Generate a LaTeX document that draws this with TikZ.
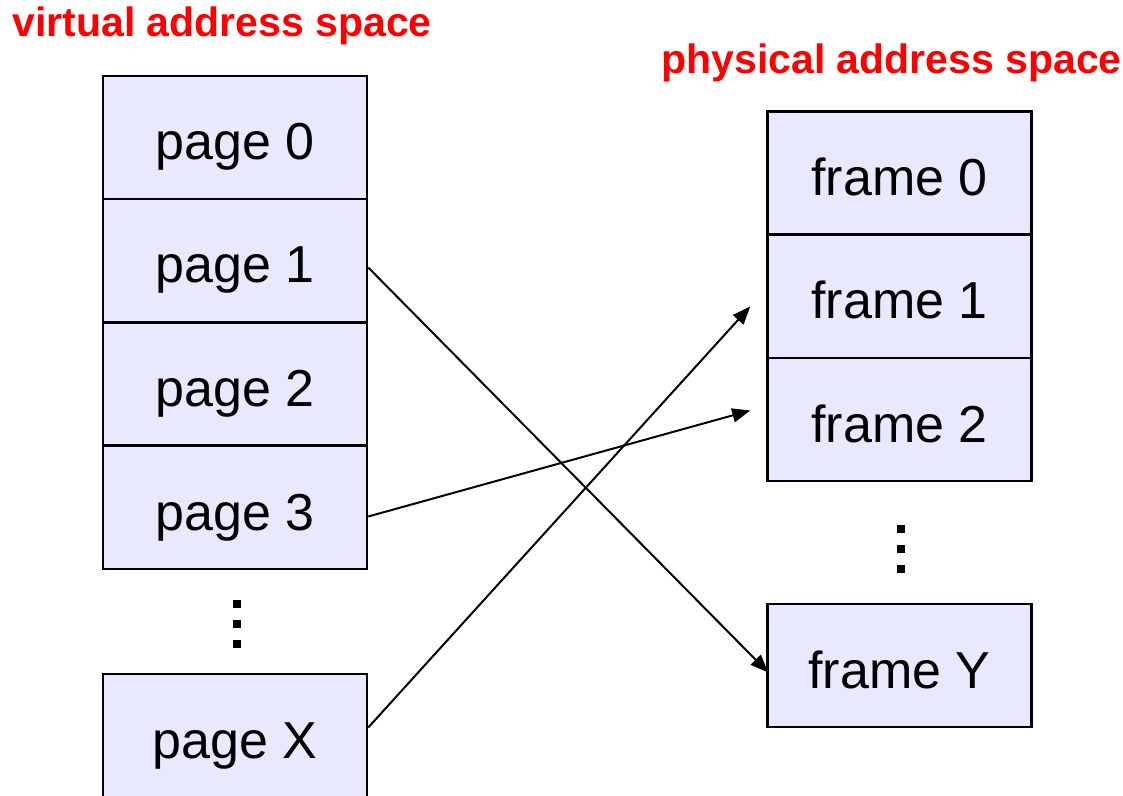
\documentclass[tikz,border=0pt]{standalone}
\usepackage{fontspec}
\setmainfont{Liberation Sans}
\usetikzlibrary{arrows.meta,calc}
\definecolor{boxfill}{RGB}{232,232,255}
\definecolor{titlered}{RGB}{255,0,0}
\tikzset{
  cell/.style={draw=black, fill=boxfill, line width=1.25pt, minimum width=132pt, minimum height=61.5pt, inner sep=0pt, text height=22.5pt, text depth=0pt, font=\fontsize{26}{30}\selectfont},
  title/.style={text=titlered, anchor=base west, inner sep=0pt, font=\fontsize{20.5}{24}\selectfont\bfseries},
  link/.style={line width=1pt, -{Triangle[length=9pt,width=7pt]}},
  dotsq/.style={fill=black, minimum size=3.6pt, inner sep=0pt, draw=none}
}
\begin{document}
\begin{tikzpicture}[x=0.5pt,y=-0.5pt]
\useasboundingbox (0,0) rectangle (1123,796);
\node[title] (t1) at (12,37) {virtual address space};
\node[title] (t2) at (661,74) {physical address space};
% left column
\node[cell] (p0) at (235,137.5) {page 0};
\node[cell] (p1) at (235,260.5) {page 1};
\node[cell] (p2) at (235,384) {page 2};
\node[cell] (p3) at (235,507.5) {page 3};
\node[cell] (px) at (235,735.5) {page X};
\node[dotsq] (ld1) at (237,604) {};
\node[dotsq] (ld2) at (237,624) {};
\node[dotsq] (ld3) at (237,644) {};
% right column
\node[cell] (f0) at (899.5,173) {frame 0};
\node[cell] (f1) at (899.5,296.5) {frame 1};
\node[cell] (f2) at (899.5,419.5) {frame 2};
\node[cell] (fy) at (899.5,665.5) {frame Y};
\node[dotsq] (rd1) at (901,529) {};
\node[dotsq] (rd2) at (901,549) {};
\node[dotsq] (rd3) at (901,569) {};
% connectors
\draw[link] ($(p1.east)+(0,7)$) -- ($(fy.west)+(2,7)$);
\draw[link] ($(p3.east)+(0,9)$) -- ($(f2.west)+(-16,-9)$);
\draw[link] ($(px.east)+(0,-8)$) -- ($(f1.west)+(-16,10)$);
\end{tikzpicture}
\end{document}
